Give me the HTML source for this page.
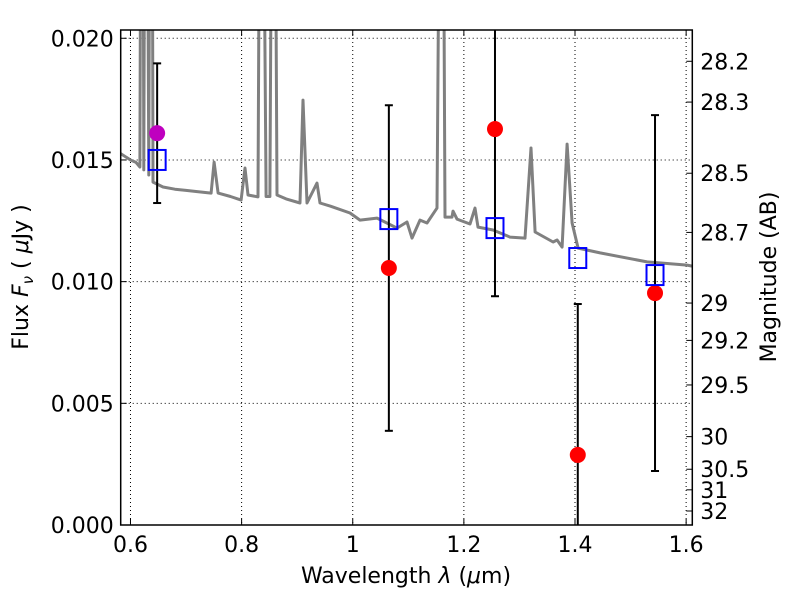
<!DOCTYPE html>
<html><head><meta charset="utf-8"><style>
html,body{margin:0;padding:0;background:#fff;}
svg{display:block;font-family:"DejaVu Sans","Liberation Sans",sans-serif;}
</style></head><body>
<svg id="chart" width="800" height="600" viewBox="0 0 800 600" xmlns="http://www.w3.org/2000/svg"></svg>
<script>
const xTicks=[0.6,0.8,1.0,1.2,1.4,1.6];
const xTickLabels=["0.6","0.8","1","1.2","1.4","1.6"];
const yTicks=[0,0.005,0.010,0.015,0.020];
const yTickLabels=["0.000","0.005","0.010","0.015","0.020"];
const magTicks=[28.2,28.3,28.5,28.7,29,29.2,29.5,30,30.5,31,32];
const magTickLabels=["28.2","28.3","28.5","28.7","29","29.2","29.5","30","30.5","31","32"];
const specX=[0.581,0.6,0.61,0.617,0.619,0.6225,0.624,0.626,0.630,0.633,0.635,0.639,0.6405,0.6585,0.68,0.70,0.72,0.7451,0.7505,0.7577,0.78,0.7991,0.8061,0.8115,0.8295,0.833,0.8385,0.844,0.851,0.8547,0.860,0.8637,0.88,0.9051,0.9105,0.9177,0.9357,0.9411,0.96,0.9951,1.0131,1.0437,1.0797,1.0977,1.1067,1.1211,1.1337,1.1517,1.1571,1.1625,1.1661,1.1787,1.1805,1.1877,1.2111,1.2201,1.2255,1.2525,1.2831,1.3101,1.3209,1.3281,1.3605,1.3677,1.3767,1.3857,1.3947,1.4055,1.4451,1.5297,1.6017,1.6107];
const specY=[0.01528,0.0150,0.0149,0.01471,0.03,0.03,0.01459,0.03,0.03,0.01438,0.03,0.03,0.01409,0.01389,0.0138,0.01375,0.0137,0.01364,0.01491,0.01364,0.0135,0.01335,0.01467,0.01356,0.01348,0.03,0.03,0.0135,0.0135,0.03,0.03,0.01356,0.0134,0.01323,0.01746,0.01323,0.01405,0.01323,0.0131,0.01282,0.01253,0.01261,0.01220,0.01245,0.01179,0.01253,0.01241,0.01302,0.03,0.03,0.01265,0.01265,0.01290,0.01257,0.01237,0.01302,0.01224,0.01212,0.01183,0.01179,0.01549,0.01204,0.01163,0.01171,0.01142,0.01565,0.01241,0.01138,0.01118,0.01081,0.01068,0.01064];
const obsX=[0.648,1.065,1.256,1.405,1.544];
const obsY=[0.0161,0.01056,0.01627,0.00288,0.00953];
const obsErr=[0.00287,0.00669,0.00687,0.0062,0.00731];
const obsColor=["#bf00bf","#ff0000","#ff0000","#ff0000","#ff0000"];
const modelY=[0.0150,0.01257,0.0122,0.01097,0.01027];

const L=120.7,R=692.3,T=30,B=525;
const X0=0.5824,X1=1.6111,Y0=0,Y1=0.02034;
const xs=v=>L+(v-X0)/(X1-X0)*(R-L);
const ys=v=>B-(v-Y0)/(Y1-Y0)*(B-T);
const NS="http://www.w3.org/2000/svg";
const svg=document.getElementById('chart');
function mk(tag,attrs,parent){const e=document.createElementNS(NS,tag);for(const k in attrs)e.setAttribute(k,attrs[k]);(parent||svg).appendChild(e);return e;}

const defs=mk('defs',{});
const cp=mk('clipPath',{id:'clip'},defs);
mk('rect',{x:L,y:T,width:R-L,height:B-T},cp);

const grid=mk('g',{});


xTicks.forEach(v=>{mk('line',{x1:xs(v),x2:xs(v),y1:T,y2:B,stroke:'#000','stroke-width':1,'stroke-dasharray':'1,3'},grid);});
yTicks.forEach(v=>{mk('line',{x1:L,x2:R,y1:ys(v),y2:ys(v),stroke:'#000','stroke-width':1,'stroke-dasharray':'1,3'},grid);});

const plot=mk('g',{'clip-path':'url(#clip)'});
let d='';
specX.forEach((v,i)=>{d+=(i?'L':'M')+xs(v).toFixed(1)+','+ys(specY[i]).toFixed(1);});
const sp=mk('path',{d:d,fill:'none',stroke:'#808080','stroke-width':3,'stroke-linejoin':'round'},plot);



obsX.forEach((v,i)=>{
  const g=mk('g',{},plot);
  
  
  const x=xs(v),yt=ys(obsY[i]+obsErr[i]),yb=ys(obsY[i]-obsErr[i]);
  mk('line',{x1:x,x2:x,y1:yt,y2:yb,stroke:'#000','stroke-width':2},g);
  mk('line',{x1:x-4,x2:x+4,y1:yt,y2:yt,stroke:'#000','stroke-width':2},g);
  mk('line',{x1:x-4,x2:x+4,y1:yb,y2:yb,stroke:'#000','stroke-width':2},g);
  mk('circle',{cx:x,cy:ys(obsY[i]),r:8,fill:obsColor[i]},g);
  const s=mk('rect',{x:x-8.5,y:ys(modelY[i])-10,width:17,height:20,fill:'none',stroke:'#0000ff','stroke-width':2},plot);
  
  
});

const fr=mk('rect',{x:L,y:T,width:R-L,height:B-T,fill:'none',stroke:'#000','stroke-width':1.5});



xTicks.forEach((v,i)=>{
  mk('line',{x1:xs(v),x2:xs(v),y1:B,y2:B-6,stroke:'#000'});
  mk('line',{x1:xs(v),x2:xs(v),y1:T,y2:T+6,stroke:'#000'});
  const t=mk('text',{x:xs(v),y:B+27,'text-anchor':'middle','font-size':22});
  t.textContent=xTickLabels[i];
  
  
});
yTicks.forEach((v,i)=>{
  mk('line',{x1:L,x2:L+6,y1:ys(v),y2:ys(v),stroke:'#000'});
  const t=mk('text',{x:L-7,y:ys(v)+8,'text-anchor':'end','font-size':22});
  t.textContent=yTickLabels[i];
  
  
});
magTicks.forEach((m,i)=>{
  const f=Math.pow(10,(23.9-m)/2.5);
  const y=ys(f);
  mk('line',{x1:R,x2:R-6,y1:y,y2:y,stroke:'#000'});
  const t=mk('text',{x:R+8,y:y+8,'font-size':22});
  t.textContent=magTickLabels[i];
  
  
});

const xl=mk('text',{x:406,y:583,'text-anchor':'middle','font-size':22});
xl.innerHTML='Wavelength  <tspan font-style="italic">λ</tspan> (<tspan font-style="italic">μ</tspan>m)';


const yl=mk('text',{x:0,y:0,'text-anchor':'middle','font-size':22,transform:'translate(28,277) rotate(-90)'});
yl.innerHTML='Flux  <tspan font-style="italic">F</tspan><tspan font-style="italic" font-size="15" dy="5">ν</tspan><tspan dy="-5">  ( </tspan><tspan font-style="italic">μ</tspan>Jy )';


const rl=mk('text',{x:0,y:0,'text-anchor':'middle','font-size':22,transform:'translate(776,277) rotate(-90)'});
rl.textContent='Magnitude (AB)';


</script>
</body></html>
